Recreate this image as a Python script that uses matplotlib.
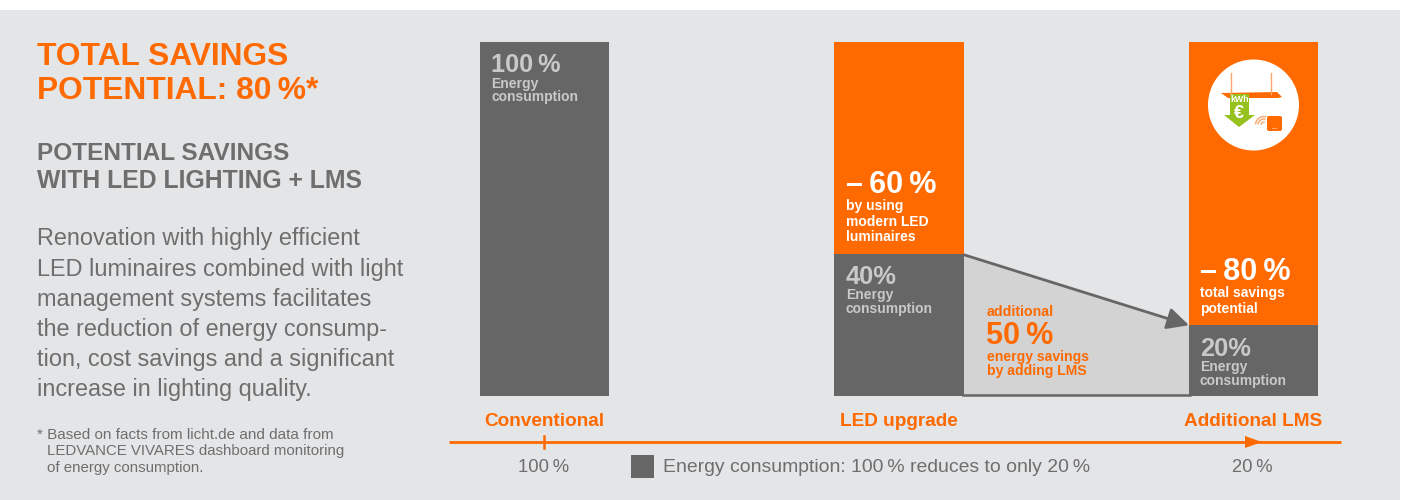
import matplotlib
matplotlib.use("Agg")
import matplotlib.pyplot as plt
from matplotlib.patches import Rectangle, Polygon, Circle, FancyArrowPatch, FancyBboxPatch, Arc

plt.rcParams['font.family'] = ['Liberation Sans', 'DejaVu Sans']

categories = ['Conventional', 'LED upgrade', 'Additional LMS']
consumption = [100, 40, 20]
savings = [0, 60, 80]
timeline_labels = ['100\u2009%', '20\u2009%']

body_lines = ['Renovation with highly efficient', 'LED luminaires combined with light',
              'management systems facilitates', 'the reduction of energy consump-',
              'tion, cost savings and a significant', 'increase in lighting quality.']
note_lines = ['* Based on facts from licht.de and data from', 'LEDVANCE VIVARES dashboard monitoring',
              'of energy consumption.']

ORANGE = '#FF6A00'
GREY = '#666666'
TEXT = '#6E6E6E'
LIGHT = '#C9C9C9'
BG = '#E4E5E7'

fig = plt.figure(figsize=(14.05, 5), dpi=100, facecolor='white')

# background panel in pixel coordinates
ov = fig.add_axes([0, 0, 1, 1], zorder=0)
ov.set_xlim(0, 1405)
ov.set_ylim(500, 0)
ov.axis('off')
ov.add_patch(Rectangle((0, 10), 1400, 490, color=BG, lw=0))

# bars, y axis runs 0-100 %
ax = fig.add_axes([480/1405, (500-396)/500, (1318-480)/1405, 354/500], zorder=1)
ax.patch.set_alpha(0)
ax.set_xlim(-0.182, 2.182)
ax.set_ylim(0, 100)
ax.axis('off')

x = range(len(categories))
ax.bar(x, consumption, width=0.364, color=GREY, lw=0, zorder=3)
ax.bar(x, savings, width=0.364, bottom=consumption, color=ORANGE, lw=0, zorder=3)

# wedge between LED upgrade and LMS bars
ax.add_patch(Polygon([(1.18, consumption[1]), (1.818, consumption[2]), (1.818, 0), (1.18, 0)],
                     closed=True, color='#D3D3D3', lw=0, zorder=1))
ax.plot([1.18, 1.82], [0.3, 0.3], color=GREY, lw=1.8, zorder=2, clip_on=False)
ax.add_patch(FancyArrowPatch((1.18, consumption[1]), (1.818, consumption[2]),
                             arrowstyle='-|>,head_length=0.6,head_width=0.3', mutation_scale=22,
                             color=GREY, lw=2.0, shrinkA=0, shrinkB=0, zorder=2))

# everything else sits on a pixel overlay above the bars
top = fig.add_axes([0, 0, 1, 1], zorder=3)
top.patch.set_alpha(0)
top.set_xlim(0, 1405)
top.set_ylim(500, 0)
top.axis('off')

# left column
top.text(37, 57, 'TOTAL SAVINGS', color=ORANGE, fontsize=22.9, fontweight='bold', va='center')
top.text(37, 91, 'POTENTIAL: 80\u2009%*', color=ORANGE, fontsize=22.9, fontweight='bold', va='center')
top.text(37, 154, 'POTENTIAL SAVINGS', color=TEXT, fontsize=17.6, fontweight='bold', va='center')
top.text(37, 181, 'WITH LED LIGHTING + LMS', color=TEXT, fontsize=17.8, fontweight='bold', va='center')
for i, line in enumerate(body_lines):
    top.text(37, 239 + i*30.1, line, color=TEXT, fontsize=16.9, va='center')
top.text(37, 435, note_lines[0], color=TEXT, fontsize=11, va='center')
top.text(47, 451.5, note_lines[1], color=TEXT, fontsize=10.8, va='center')
top.text(47, 468, note_lines[2], color=TEXT, fontsize=10.8, va='center')

# texts on the bars
def bar_text(px, y_big, y_small, big, small, col, size, gap):
    top.text(px, y_big, big, color=col, fontsize=size, fontweight='bold', va='center')
    for j, s in enumerate(small):
        top.text(px, y_small + j*gap, s, color=col, fontsize=10, fontweight='bold', va='center')

bar_text(491, 65, 84, '100\u2009%', ['Energy', 'consumption'], LIGHT, 18.2, 13.5)
bar_text(846, 277, 295, '40%', ['Energy', 'consumption'], LIGHT, 18.4, 13.5)
bar_text(1200, 349, 367, '20%', ['Energy', 'consumption'], LIGHT, 18.4, 13.5)
bar_text(846, 185, 206, '\u2013\u200960\u2009%', ['by using', 'modern LED', 'luminaires'], 'white', 22, 15.5)
bar_text(1200, 272, 293, '\u2013\u200980\u2009%', ['total savings', 'potential'], 'white', 22, 15.5)

top.text(987, 312, 'additional', color=ORANGE, fontsize=10.2, fontweight='bold', va='center')
top.text(986, 335.5, '50\u2009%', color=ORANGE, fontsize=22, fontweight='bold', va='center')
top.text(987, 356.5, 'energy savings', color=ORANGE, fontsize=10.1, fontweight='bold', va='center')
top.text(987, 371, 'by adding LMS', color=ORANGE, fontsize=10.1, fontweight='bold', va='center')

# timeline
for px, name in zip([544.5, 898.5, 1253], categories):
    top.text(px, 421.5, name, color=ORANGE, fontsize=13.7, fontweight='bold', ha='center', va='center')
top.plot([449, 1341], [442, 442], color=ORANGE, lw=2, solid_capstyle='butt')
top.plot([543.5, 543.5], [436, 448], color=ORANGE, lw=1.8)
top.add_patch(Polygon([(1245, 436), (1245, 448), (1262, 442)], color=ORANGE, lw=0))
top.text(543.5, 468, timeline_labels[0], color=TEXT, fontsize=13.3, ha='center', va='center')
top.text(1252, 468, timeline_labels[1], color=TEXT, fontsize=13.3, ha='center', va='center')
top.add_patch(Rectangle((631, 455), 23, 23, color=GREY, lw=0))
top.text(663, 468, 'Energy consumption: 100\u2009% reduces to only 20\u2009%', color=TEXT, fontsize=13.95, va='center')

# icon on the LMS bar
top.add_patch(Circle((1253.5, 105), 45.5, color='white', lw=0))
top.plot([1231, 1231], [73, 94], color='#F9A56E', lw=1)
top.plot([1271, 1271], [73, 94], color='#F9A56E', lw=1)
top.add_patch(Polygon([(1221, 93), (1277, 92), (1282, 97), (1278, 98), (1228, 98)], color=ORANGE, lw=0))
top.add_patch(Polygon([(1230, 94), (1249, 94), (1249, 115), (1255, 115), (1239, 127), (1224, 115), (1230, 115)],
                      color='#96C11F', lw=0))
top.text(1240, 100, 'kWh', color='white', fontsize=6.3, fontweight='bold', ha='center', va='center')
top.text(1239, 113, '€', color='white', fontsize=13, fontweight='bold', ha='center', va='center')
top.add_patch(FancyBboxPatch((1268, 117), 13, 13, boxstyle='round,pad=1,rounding_size=2', color=ORANGE, lw=0))
top.text(1274, 131, '...', color='white', fontsize=5, fontweight='bold', ha='center', va='bottom')
for r in [3, 6, 8.5]:
    top.add_patch(Arc((1264, 125), r*2, r*2, theta1=185, theta2=285, color='#F9A56E', lw=1))

fig.savefig('out.png', dpi=100)
